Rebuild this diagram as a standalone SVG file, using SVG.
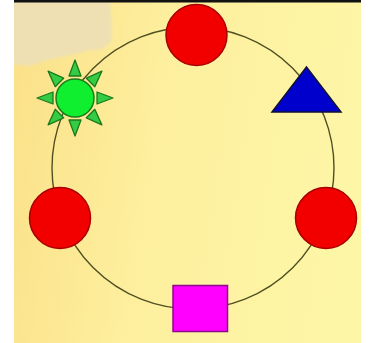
<svg xmlns="http://www.w3.org/2000/svg" width="370" height="343" viewBox="0 0 370 343">
<defs>
<linearGradient id="bg" x1="0" y1="0" x2="1" y2="0.15">
<stop offset="0" stop-color="#fbe088"/>
<stop offset="0.45" stop-color="#fdef9e"/>
<stop offset="1" stop-color="#fdf6a6"/>
</linearGradient>
<filter id="soft" x="-20%" y="-20%" width="140%" height="140%"><feGaussianBlur stdDeviation="1.8"/></filter>
<clipPath id="clipbg"><rect x="14" y="0" width="347" height="343"/></clipPath>
<style>
.red{fill:#f20000;stroke:#a80000;stroke-width:1.5}
.ray{fill:#33cc44;stroke:#1c7a1c;stroke-width:1.3;stroke-linejoin:round}
.body{fill:#10ee30;stroke:#1a7a1a;stroke-width:1.5}
.ring{fill:none;stroke:#4f4f22;stroke-width:1.4}
</style>
<polygon id="r" class="ray" points="-6,-22 6,-22 0,-38"/>
</defs>
<rect width="370" height="343" fill="#ffffff"/>
<rect x="14" y="0" width="347" height="343" fill="url(#bg)"/>
<g clip-path="url(#clipbg)">
<path d="M8,-5 L110,-5 L112,40 Q104,52 90,50 Q70,56 55,58 Q40,62 30,66 L8,64 Z" fill="#eee0b3" filter="url(#soft)"/>
</g>
<rect x="14" y="0" width="347" height="2.5" fill="#111111"/>
<g id="connectors">
<circle class="ring" cx="193" cy="168" r="141"/>
</g>
<g id="node-top"><circle class="red" cx="196.5" cy="35" r="30.5"/></g>
<g id="node-triangle"><polygon points="306.5,67 272,112 341,112" fill="#0000cc" stroke="#111133" stroke-width="1.5" stroke-linejoin="miter"/></g>
<g id="node-right"><circle class="red" cx="326" cy="218" r="30.5"/></g>
<g id="node-square"><rect x="173" y="285.5" width="54.5" height="46" fill="#ff00ff" stroke="#8a0a8a" stroke-width="1.5"/></g>
<g id="node-left"><circle class="red" cx="60" cy="218" r="30.5"/></g>
<g id="node-sun" transform="translate(75,98)">
<use href="#r"/>
<use href="#r" transform="rotate(45)"/>
<use href="#r" transform="rotate(90)"/>
<use href="#r" transform="rotate(135)"/>
<use href="#r" transform="rotate(180)"/>
<use href="#r" transform="rotate(225)"/>
<use href="#r" transform="rotate(270)"/>
<use href="#r" transform="rotate(315)"/>
<circle class="body" r="19"/>
</g>
</svg>
